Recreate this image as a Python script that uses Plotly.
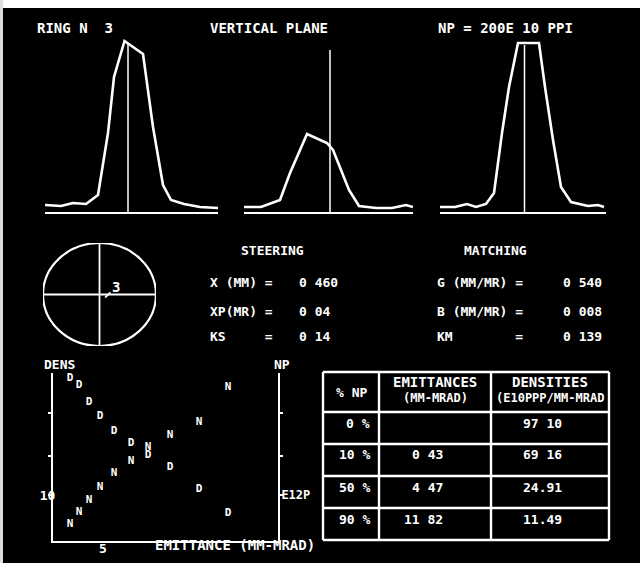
import plotly.graph_objects as go

W, H = 640, 563
FONT = "DejaVu Sans Mono"

# ---------------- data ----------------
# top profiles: position (channel offset) and amplitude above baseline
p1_pos = [0, 16, 28, 41, 53, 63, 69, 79.5, 98, 108, 118, 126, 139, 155, 173]
p1_amp = [7, 6, 9, 8, 17, 79, 135, 171, 158, 85, 27, 12, 8, 5, 4]
p1_center, p1_center_h = 83, 169

p2_pos = [0, 17, 36, 46, 63, 83, 89, 105, 115, 132, 148, 162, 169]
p2_amp = [5, 5, 12, 39, 78, 69, 62, 22, 6, 4, 4, 7, 5]
p2_center, p2_center_h = 86, 162

p3_pos = [0, 15, 27, 36, 46, 54, 62, 69, 78, 99, 105, 113, 121, 131, 148, 158, 164]
p3_amp = [5, 5, 8, 5, 8, 19, 79, 125, 169, 169, 125, 72, 25, 10, 6, 7, 5]
p3_center, p3_center_h = 84.5, 167

titles = ["RING N  3", "VERTICAL PLANE", "NP = 200E 10 PPI"]

# steering / matching
steer_labels = ["X (MM) =", "XP(MR) =", "KS     ="]
steer_values = ["0 460", "0 04", "0 14"]
match_labels = ["G (MM/MR) =", "B (MM/MR) =", "KM        ="]
match_values = ["0 540", "0 008", "0 139"]

# ring position marker in the circle
ring_x, ring_y, ring_label = 0.29, 0.15, "3"

# emittance plot
emittance = [1.7, 2.6, 3.6, 4.7, 6.1, 7.8, 9.5, 11.7, 14.6, 17.5]
density = [35.4, 33.9, 30.2, 27.0, 23.9, 21.3, 18.7, 16.1, 11.3, 6.1]
np_frac = [3.7, 6.3, 8.9, 11.7, 14.8, 17.4, 20.4, 23.0, 25.9, 33.5]
y_ticks = [27.8, 18.5, 10]
y_left_ticktext = ["", "", "10"]
y_right_ticktext = ["", "", "E12P"]
x_ticks = [5]
x_ticktext = ["5"]

# table
tbl_head_main = ["% NP", "EMITTANCES", "DENSITIES"]
tbl_head_sub = ["", "(MM-MRAD)", "(E10PPP/MM-MRAD"]
tbl_pct = ["0 %", "10 %", "50 %", "90 %"]
tbl_emit = ["", "0 43", "4 47", "11 82"]
tbl_dens = ["97 10", "69 16", "24.91", "11.49"]

# ---------------- helpers ----------------
def dx(a, b):
    return [a / W, b / W]

def dy(top, bottom):
    return [1 - bottom / H, 1 - top / H]

def px(x, y):
    return x / W, 1 - y / H

fig = go.Figure()
WHITE = "white"

def ann(text, x, y, size=13, xanchor="left"):
    ax, ay = px(x, y)
    fig.add_annotation(x=ax, y=ay, xref="paper", yref="paper",
                       text=text.replace(" ", "&nbsp;"),
                       showarrow=False, xanchor=xanchor, yanchor="middle",
                       font=dict(family=FONT, size=size, color=WHITE, weight="bold"))

def pline(x0, y0, x1, y1, w=2.4):
    a0, b0 = px(x0, y0)
    a1, b1 = px(x1, y1)
    fig.add_shape(type="line", xref="paper", yref="paper", x0=a0, y0=b0, x1=a1, y1=b1,
                  line=dict(color=WHITE, width=w))

# ---------------- top profiles ----------------
profiles = [
    (p1_pos, p1_amp, p1_center, p1_center_h, (45, 218)),
    (p2_pos, p2_amp, p2_center, p2_center_h, (244, 413)),
    (p3_pos, p3_amp, p3_center, p3_center_h, (440, 606)),
]
for i, (pos, amp, c, ch, (xa, xb)) in enumerate(profiles, start=1):
    sfx = "" if i == 1 else str(i)
    fig.add_trace(go.Scatter(x=pos, y=amp, mode="lines",
                             line=dict(color=WHITE, width=2.6),
                             xaxis="x" + sfx, yaxis="y" + sfx, hoverinfo="skip"))
    fig.add_trace(go.Scatter(x=[c, c], y=[0, ch], mode="lines",
                             line=dict(color=WHITE, width=1.5),
                             xaxis="x" + sfx, yaxis="y" + sfx, hoverinfo="skip"))
    fig.layout["xaxis" + sfx] = dict(domain=dx(xa, xb), range=[0, xb - xa],
                                    showline=True, linecolor=WHITE, linewidth=2,
                                    showgrid=False, zeroline=False, showticklabels=False,
                                    ticks="", anchor="y" + sfx, fixedrange=True)
    fig.layout["yaxis" + sfx] = dict(domain=dy(28, 212), range=[0, 184],
                                    visible=False, anchor="x" + sfx, fixedrange=True)

for t, x in zip(titles, [35, 208, 436]):
    ann(t, x, 28, size=14)

# ---------------- circle (ring position) ----------------
fig.add_trace(go.Scatter(x=[-1, 1], y=[0, 0], mode="lines", line=dict(color=WHITE, width=1.8),
                         xaxis="x4", yaxis="y4", hoverinfo="skip"))
fig.add_trace(go.Scatter(x=[0, 0], y=[-1, 1], mode="lines", line=dict(color=WHITE, width=1.8),
                         xaxis="x4", yaxis="y4", hoverinfo="skip"))
fig.update_layout(
    xaxis4=dict(domain=dx(43, 156), range=[-1, 1], visible=False, anchor="y4"),
    yaxis4=dict(domain=dy(243, 346), range=[-1, 1], visible=False, anchor="x4"),
)
fig.add_shape(type="circle", xref="x4", yref="y4", x0=-1, y0=-1, x1=1, y1=1,
              line=dict(color=WHITE, width=2.2))
fig.add_annotation(x=0.1, y=-0.06, xref="x4", yref="y4", ax=ring_x, ay=ring_y,
                   axref="x4", ayref="y4", text="<b>" + ring_label + "</b>",
                   showarrow=True, arrowhead=0, arrowwidth=1.8, arrowcolor=WHITE,
                   font=dict(family=FONT, size=14, color=WHITE))

# ---------------- steering / matching ----------------
ann("STEERING", 272, 250, xanchor="center")
ann("MATCHING", 495, 250, xanchor="center")
for lab, val, y in zip(steer_labels, steer_values, [283, 311, 336]):
    ann(lab, 208, y)
    ann(val, 297, y)
for lab, val, y in zip(match_labels, match_values, [283, 311, 336]):
    ann(lab, 435, y)
    ann(val, 561, y)

# ---------------- emittance / density plot ----------------
fig.add_trace(go.Scatter(x=emittance, y=density, mode="text", text=["D"] * len(emittance),
                         textfont=dict(family=FONT, size=11, color=WHITE, weight="bold"),
                         xaxis="x5", yaxis="y5", hoverinfo="skip"))
fig.add_trace(go.Scatter(x=emittance, y=np_frac, mode="text", text=["N"] * len(emittance),
                         textfont=dict(family=FONT, size=11, color=WHITE, weight="bold"),
                         xaxis="x5", yaxis="y6", hoverinfo="skip"))
axis_font = dict(family=FONT, size=13, color=WHITE, weight="bold")
fig.update_layout(
    xaxis5=dict(domain=dx(53, 278), range=[0, 22.5], anchor="y5",
                showline=True, linecolor=WHITE, linewidth=2, showgrid=False, zeroline=False,
                tickvals=x_ticks, ticktext=x_ticktext, ticks="", tickfont=axis_font,
                ticklabelstandoff=-6),
    yaxis5=dict(domain=dy(373, 541), range=[0, 36.5], anchor="x5",
                showline=True, linecolor=WHITE, linewidth=2, showgrid=False, zeroline=False,
                tickvals=y_ticks, ticktext=y_left_ticktext, ticks="outside", ticklen=3,
                tickwidth=2, tickcolor=WHITE, tickfont=axis_font, ticklabelstandoff=-10),
    yaxis6=dict(domain=dy(373, 541), range=[0, 36.5], anchor="x5", overlaying="y5",
                side="right",
                showline=True, linecolor=WHITE, linewidth=2, showgrid=False, zeroline=False,
                tickvals=y_ticks, ticktext=y_right_ticktext, ticks="outside", ticklen=3,
                tickwidth=2, tickcolor=WHITE, ticklabelstandoff=-4,
                tickfont=dict(family=FONT, size=12, color=WHITE, weight="bold")),
)
ann("DENS", 42, 364)
ann("NP", 272, 364)
ann("EMITTANCE (MM-MRAD)", 153, 545, size=14)

# ---------------- table ----------------
T_LEFT, T_TOP = 323, 372
COL_W = [56, 112, 118]
HEAD_H, ROW_H = 40, 32
n_rows = len(tbl_pct)
col_x = [T_LEFT]
for w in COL_W:
    col_x.append(col_x[-1] + w)
row_y = [T_TOP, T_TOP + HEAD_H]
for _ in range(n_rows):
    row_y.append(row_y[-1] + ROW_H)
for x in col_x:
    pline(x, row_y[0], x, row_y[-1])
for y in row_y:
    pline(col_x[0], y, col_x[-1], y)

# header
ann(tbl_head_main[0], (col_x[0] + col_x[1]) / 2, T_TOP + HEAD_H / 2, size=13, xanchor="center")
for j in (1, 2):
    cx = (col_x[j] + col_x[j + 1]) / 2
    ann(tbl_head_main[j], cx, T_TOP + 10, size=14, xanchor="center")
    ann(tbl_head_sub[j], cx, T_TOP + 26, size=12, xanchor="center")

# body
for r in range(n_rows):
    ty = row_y[r + 1] + 11
    ann(tbl_pct[r], col_x[1] - 7, ty, xanchor="right")
    if tbl_emit[r]:
        ann(tbl_emit[r], col_x[2] - 46, ty, xanchor="right")
    ann(tbl_dens[r], col_x[2] + 51, ty, xanchor="center")

# ---------------- scan borders ----------------
fig.add_shape(type="rect", xref="paper", yref="paper", x0=0, x1=1, y0=1 - 8 / H, y1=1,
              fillcolor=WHITE, line=dict(width=0), layer="above")
fig.add_shape(type="rect", xref="paper", yref="paper", x0=0, x1=3 / W, y0=0, y1=1,
              fillcolor="#dddddd", line=dict(width=0), layer="above")

fig.update_layout(width=W, height=H, margin=dict(l=0, r=0, t=0, b=0),
                  paper_bgcolor="black", plot_bgcolor="rgba(0,0,0,0)",
                  showlegend=False, font=dict(family=FONT, color=WHITE))

fig.write_html("out.html")
